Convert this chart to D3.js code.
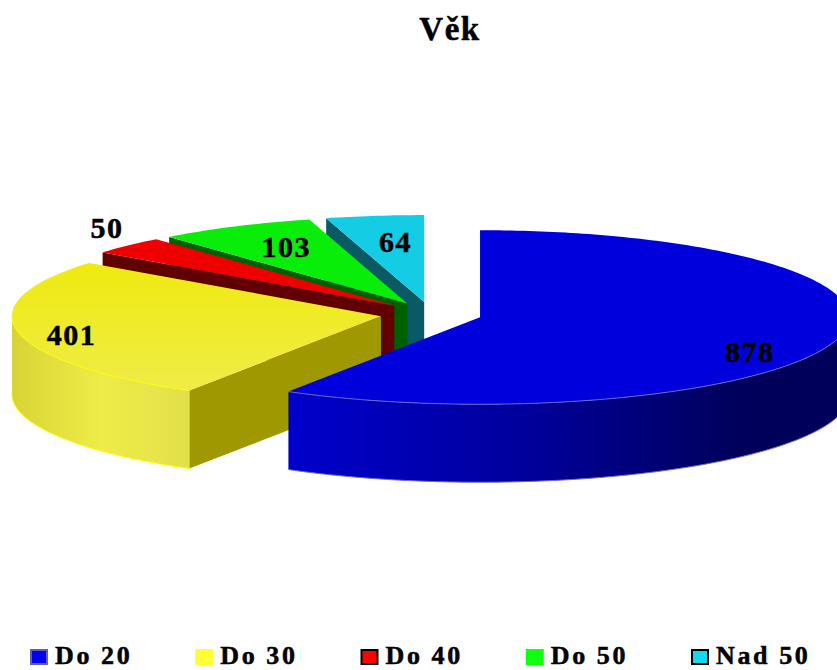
<!DOCTYPE html>
<html>
<head>
<meta charset="utf-8">
<title>Věk</title>
<script src="https://d3js.org/d3.v7.min.js"></script>
<style>
  body { margin: 0; background: #fff; }
  svg { display: block; }
  text { font-family: "Liberation Serif", serif; font-weight: bold; fill: #000; stroke: #000; stroke-width: 0.5; }
</style>
</head>
<body>
<script>
var categories = ["Do 20", "Do 30", "Do 40", "Do 50", "Nad 50"];
var values = [878, 401, 50, 103, 64];

var topColors = ["#0000dc", "url(#topYellow)", "#ee0000", "#08ee08", "#14cce4"];
var wallColors = ["url(#wallBlue)", "url(#wallYellow)", "#600000", "#006000", "#0a5a66"];
var cutColors = ["#0000c8", "#a09800", "#600000", "#006000", "#0a5a66"];
var rimColors = ["#6a6ad0", "#ffff00", "#ee0000", "#08ee08", "#14cce4"];
var swatchColors = ["#0000f0", "#ffff33", "#ff0000", "#11ff11", "#14d8f0"];
var swatchBorders = ["#6060b0", "#ffff33", "#000", "#11ff11", "#000"];
// label offsets from the slice centroid
var labelDx = [92, -128, -154, -35, -4];
var labelDy = [33, 21, -38, -8, -7];

var width = 837, height = 670;
var cx = 431, cy = 314, rx = 369, ry = 87, depth = 78, explode = 0.138;

var svg = d3.select("body").append("svg")
  .attr("width", width)
  .attr("height", height);

var defs = svg.append("defs");
function gradient(id, x1, x2, y1, y2, stops) {
  var g = defs.append("linearGradient").attr("id", id)
    .attr("gradientUnits", "userSpaceOnUse")
    .attr("x1", x1).attr("x2", x2).attr("y1", y1).attr("y2", y2);
  stops.forEach(function(s) {
    g.append("stop").attr("offset", s[0]).attr("stop-color", s[1]);
  });
}
gradient("wallBlue", 290, 849, 0, 0, [[0, "#0000cc"], [0.45, "#000098"], [0.8, "#00005c"], [1, "#00005a"]]);
gradient("wallYellow", 12, 190, 0, 0, [[0, "#d8d436"], [0.5, "#eeec48"], [1, "#e2e04a"]]);
gradient("topYellow", 0, 0, 264, 392, [[0, "#eeea10"], [1, "#f0ec48"]]);

var pie = d3.pie().sort(null).value(function(d) { return d; });
var arcs = pie(values);

var sx = d3.scaleLinear().domain([-1, 1]).range([-rx, rx]);
var sy = d3.scaleLinear().domain([-1, 1]).range([-ry, ry]);
var line = d3.line().x(function(d) { return d[0]; }).y(function(d) { return d[1]; });

function mid(a) { return (a.startAngle + a.endAngle) / 2; }
function apex(a) {
  return [cx + sx(Math.sin(mid(a)) * explode), cy + sy(-Math.cos(mid(a)) * explode)];
}
function rim(a, t, dz) {
  var c = apex(a);
  return [c[0] + sx(Math.sin(t)), c[1] + sy(-Math.cos(t)) + dz];
}
function sweep(t0, t1) {
  var n = Math.max(2, Math.ceil((t1 - t0) * 60));
  return d3.range(n + 1).map(function(i) { return t0 + (t1 - t0) * i / n; });
}
function down(p) { return [p[0], p[1] + depth]; }

// back slices first, the big blue one ends up on top
var slices = svg.selectAll("g.slice")
  .data(arcs.map(function(a, i) { return {a: a, i: i}; }).reverse())
  .enter().append("g").attr("class", "slice");

slices.each(function(d) {
  var g = d3.select(this), a = d.a, c = apex(a);

  // cut face, only when it turns towards the viewer
  if (Math.sin(a.startAngle) < -1e-6) {
    var p = rim(a, a.startAngle, 0);
    g.append("path").attr("d", line([c, p, down(p), down(c)]) + "Z")
      .attr("fill", cutColors[d.i]);
  }

  // outer wall for the front half of the ellipse
  var t0 = Math.max(a.startAngle, Math.PI / 2), t1 = Math.min(a.endAngle, Math.PI * 1.5);
  if (t1 > t0) {
    var ts = sweep(t0, t1);
    var upper = ts.map(function(t) { return rim(a, t, 0); });
    var lower = ts.map(function(t) { return rim(a, t, depth); });
    g.append("path").attr("d", line(upper.concat(lower.slice().reverse())) + "Z")
      .attr("fill", wallColors[d.i]);
    g.append("path").attr("d", line(lower))
      .attr("fill", "none").attr("stroke", rimColors[d.i]).attr("stroke-width", 1);
  }

  // top face
  var pts = [c].concat(sweep(a.startAngle, a.endAngle).map(function(t) { return rim(a, t, 0); }));
  g.append("path").attr("d", line(pts) + "Z")
    .attr("fill", topColors[d.i]);
  if (t1 > t0) {
    g.append("path")
      .attr("d", line(sweep(t0, t1).map(function(t) { return rim(a, t, 0); })))
      .attr("fill", "none").attr("stroke", rimColors[d.i]).attr("stroke-width", 1);
  }
});

// value labels
svg.selectAll("text.value")
  .data(arcs)
  .enter().append("text")
  .attr("class", "value")
  .attr("x", function(a, i) { return rim(a, mid(a), 0)[0] * 0.5 + apex(a)[0] * 0.5 + labelDx[i]; })
  .attr("y", function(a, i) { return rim(a, mid(a), 0)[1] * 0.5 + apex(a)[1] * 0.5 + labelDy[i]; })
  .attr("text-anchor", "middle")
  .attr("font-size", 30)
  .attr("letter-spacing", 1.5)
  .text(function(a) { return a.value; });

svg.append("text")
  .attr("x", 450).attr("y", 40)
  .attr("text-anchor", "middle")
  .attr("font-size", 33)
  .attr("letter-spacing", 1.5)
  .text("Věk");

// legend
var legendX = d3.scaleLinear().domain([0, categories.length - 1]).range([30, 691]);
var legend = svg.selectAll("g.legend")
  .data(categories)
  .enter().append("g")
  .attr("class", "legend")
  .attr("transform", function(d, i) { return "translate(" + legendX(i) + ",649)"; });
legend.append("rect")
  .attr("x", 1).attr("y", 1)
  .attr("width", 16).attr("height", 14)
  .attr("fill", function(d, i) { return swatchColors[i]; })
  .attr("stroke", function(d, i) { return swatchBorders[i]; })
  .attr("stroke-width", 2);
legend.append("text")
  .attr("x", 25).attr("y", 15)
  .attr("font-size", 26)
  .attr("letter-spacing", 2.6)
  .text(function(d) { return d; });
</script>
</body>
</html>
